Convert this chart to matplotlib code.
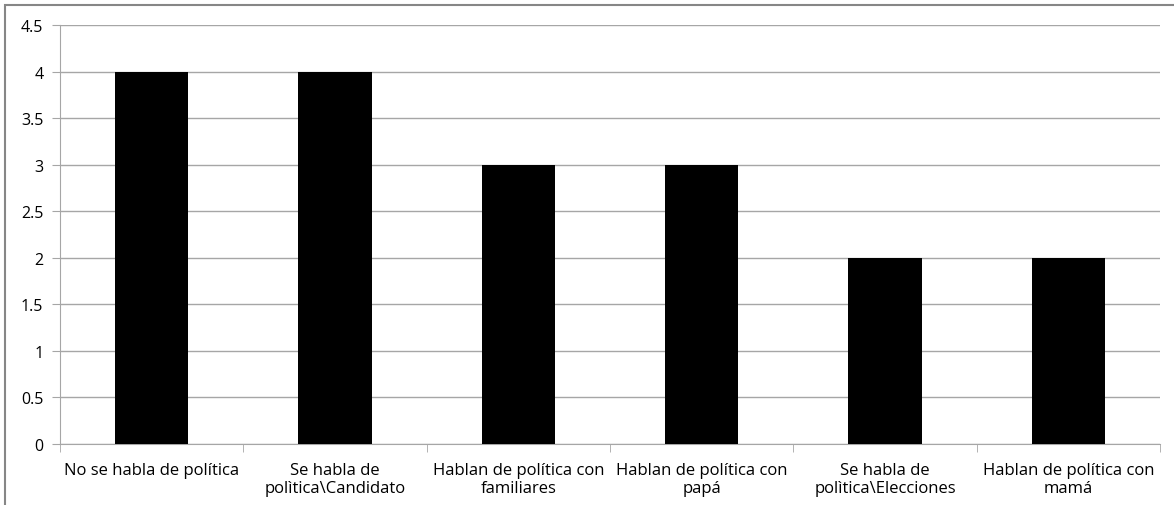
import matplotlib.pyplot as plt
from matplotlib.patches import Rectangle

# categorias y valores
categorias = [
    'No se habla de política',
    'Se habla de\npolìtica\\Candidato',
    'Hablan de política con\nfamiliares',
    'Hablan de política con\npapá',
    'Se habla de\npolìtica\\Elecciones',
    'Hablan de política con\nmamá',
]
valores = [4, 4, 3, 3, 2, 2]
yticks = [0, 0.5, 1, 1.5, 2, 2.5, 3, 3.5, 4, 4.5]

plt.rcParams['font.family'] = ['Open Sans', 'DejaVu Sans']

fig = plt.figure(figsize=(11.74, 5.06), dpi=100)
ax = fig.add_axes([60 / 1174, 1 - 445 / 506, 1100 / 1174, 419 / 506])

x = range(len(categorias))
ax.bar(x, valores, width=0.4, color='black', zorder=3)

ax.set_xlim(-0.5, len(categorias) - 0.5)
ax.set_ylim(0, 4.5)
ax.set_yticks(yticks)
ax.set_yticklabels(['{:g}'.format(v) for v in yticks], fontsize=11.5)
ax.yaxis.grid(True, color='#a6a6a6', linewidth=1, zorder=0)

# marcas de categoria entre barras
ax.set_xticks([i - 0.5 for i in range(len(categorias) + 1)], minor=True)
ax.set_xticks(list(x))
ax.set_xticklabels(categorias, fontsize=12, linespacing=1.2)
ax.tick_params(axis='x', which='major', length=0, pad=13)
ax.tick_params(axis='x', which='minor', length=6, color='#a6a6a6', direction='out')
ax.tick_params(axis='y', length=6, color='#a6a6a6', pad=6)

for s in ['top', 'right']:
    ax.spines[s].set_visible(False)
for s in ['left', 'bottom']:
    ax.spines[s].set_color('#a6a6a6')

# borde exterior del grafico
fig.patches.append(Rectangle((5 / 1174, -0.1), 1.2, 0.1 + (1 - 6 / 506),
                             transform=fig.transFigure, fill=False,
                             edgecolor='#868686', linewidth=1.5))

fig.savefig('out.png', dpi=100)
